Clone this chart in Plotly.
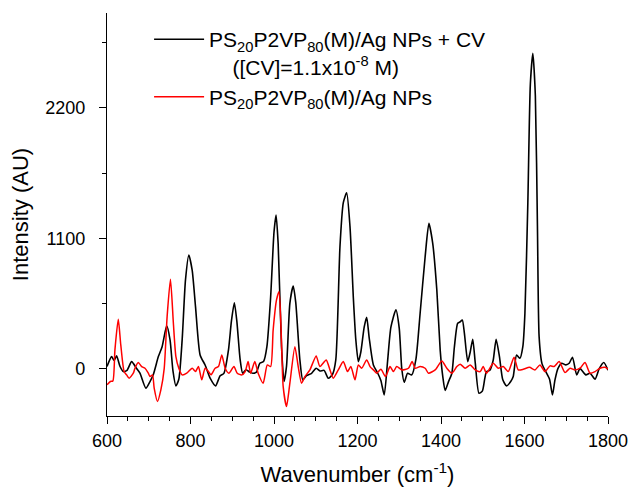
import plotly.graph_objects as go

# Black: PS20P2VP80(M)/Ag NPs + CV
cv_wavenumber = [600, 611, 617, 623, 631, 639, 648, 659, 671, 679, 693, 703, 711, 723, 732, 743, 751, 758, 765, 772,
                 780, 788, 796, 804, 812, 823, 835, 847, 860, 871, 880, 891, 898, 905, 911, 919, 925, 933, 942, 949,
                 958, 966, 975, 983, 992, 1000, 1005, 1010, 1018, 1024, 1030, 1038, 1046, 1052, 1062, 1069, 1078, 1090,
                 1101, 1110, 1120, 1130, 1140, 1148, 1158, 1166, 1174, 1182, 1190, 1196, 1202, 1208, 1216, 1222, 1228,
                 1238, 1248, 1256, 1264, 1272, 1280, 1292, 1300, 1306, 1312, 1320, 1330, 1340, 1350, 1362, 1371, 1380,
                 1390, 1398, 1404, 1410, 1418, 1426, 1432, 1440, 1446, 1451, 1456, 1464, 1470, 1476, 1482, 1491, 1499,
                 1505, 1509, 1517, 1525, 1532, 1540, 1548, 1557, 1567, 1573, 1581, 1589, 1596, 1601, 1608, 1614, 1620,
                 1626, 1631, 1635, 1642, 1650, 1660, 1667, 1673, 1680, 1689, 1699, 1707, 1715, 1725, 1733, 1747, 1757,
                 1769, 1779, 1790, 1800]
cv_intensity = [17, 101, 70, 107, 20, -25, -15, 59, 0, -39, -165, -109, -50, 101, 185, 360, 242, -20, -146, -90,
                242, 748, 958, 830, 523, 115, 30, -81, -146, -60, -40, 158, 400, 556, 400, 73, -39, -10, -30, -39,
                -30, 45, 60, 185, 607, 1150, 1296, 1050, 185, -109, 20, 551, 697, 560, 73, -95, -60, -40,
                3, -20, -15, -81, -50, 73, 1028, 1400, 1483, 1200, 600, 242, 59, 140, 350, 433, 260,
                31, -35, -100, -222, 60, 350, 495, 340, 0, -115, -40, -53, 80, 467, 944, 1225, 1060,
                663, 158, -60, -185, -110, -39, 180, 382, 395, 410, 300, 59, 140, 248, 50, -208, -190,
                -81, -25, -14, 70, 248, 101, -95, -146, -109, -67, 115, 87, 185, 467, 1400, 2400, 2660,
                2300, 1200, 270, 40, -20, -90, -222, -95, 0, 45, 31, 45, 96, -53, 0, -53, -39,
                -89, 0, 51, -14]

# Red: PS20P2VP80(M)/Ag NPs
np_wavenumber = [600, 608, 614, 619, 627, 633, 641, 647, 653, 663, 667, 675, 683, 691, 699, 703, 709, 713, 721, 729,
                 737, 744, 752, 759, 765, 772, 780, 791, 804, 812, 819, 827, 835, 843, 849, 859, 867, 875, 883, 892,
                 904, 912, 923, 931, 938, 944, 954, 962, 974, 984, 992, 998, 1006, 1012, 1017, 1022, 1030, 1038,
                 1050, 1058, 1066, 1074, 1086, 1101, 1110, 1125, 1134, 1142, 1154, 1166, 1176, 1184, 1194, 1202,
                 1210, 1222, 1230, 1238, 1246, 1256, 1267, 1278, 1286, 1294, 1306, 1322, 1331, 1338, 1350, 1362,
                 1370, 1386, 1402, 1414, 1426, 1438, 1446, 1458, 1470, 1482, 1494, 1501, 1509, 1525, 1537, 1549,
                 1561, 1575, 1585, 1597, 1612, 1625, 1637, 1649, 1661, 1671, 1683, 1697, 1709, 1721, 1733, 1745,
                 1757, 1769, 1781, 1793, 1800]
np_intensity = [-137, -109, -105, 158, 416, 200, -25, -53, -81, -39, 3, 51, 17, 3, -39, -67, -53, -165, -278, -180,
                0, 438, 753, 382, 101, 3, -53, -39, 3, -25, 17, -95, 3, -25, -53, 3, 17, 115, 3, -39,
                17, -39, -53, -25, 59, -39, 59, -39, -123, 31, 17, 326, 579, 649, 326, -152, -320, -123,
                185, 17, -123, -67, -11, 107, 17, 73, -11, -81, -11, 59, -25, 17, -95, 31,
                3, 73, 17, -11, -39, -6, -67, 17, -25, 17, -11, 3, 59, 3, 17, 3,
                -39, -11, 65, 3, -39, 17, 37, 3, 31, -11, -25, 17, -39, 45, 3, 17,
                -25, 96, -11, -6, 11, -11, 31, -25, 23, 17, 59, -34, 3, -11, 3, 51,
                -39, -25, 3, 11, -6]

x_tickvals = [600, 800, 1000, 1200, 1400, 1600, 1800]
y_tickvals = [0, 1100, 2200]

name_cv = ("PS<sub>20</sub>P2VP<sub>80</sub>(M)/Ag NPs + CV<br>"
           "\u00a0\u00a0\u00a0\u00a0([CV]=1.1x10<sup>-8</sup> M)")
name_np = "PS<sub>20</sub>P2VP<sub>80</sub>(M)/Ag NPs"

FONT = "Liberation Sans, Arial, sans-serif"

fig = go.Figure()
fig.add_trace(go.Scatter(x=cv_wavenumber, y=cv_intensity, mode="lines", name=name_cv,
                         line=dict(color="black", width=1.6, shape="spline", smoothing=0.6)))
fig.add_trace(go.Scatter(x=np_wavenumber, y=np_intensity, mode="lines", name=name_np,
                         line=dict(color="#FF0000", width=1.5, shape="spline", smoothing=0.6)))

axis_common = dict(showline=True, linecolor="black", linewidth=1.3, ticks="outside", ticklen=7,
                   tickwidth=1.3, tickcolor="black", showgrid=False, zeroline=False, automargin=False,
                   tickfont=dict(family=FONT, size=18, color="black"))

fig.update_xaxes(range=[600, 1800], tickvals=x_tickvals,
                 minor=dict(dtick=50, tick0=600, ticklen=4, tickwidth=1.3, tickcolor="black", ticks="outside", showgrid=False),
                 title=dict(text="Wavenumber (cm<sup>-1</sup>)", font=dict(family=FONT, size=22, color="black"), standoff=17),
                 ticklabelstandoff=1,
                 **axis_common)
fig.update_yaxes(range=[-400, 3000], tickvals=y_tickvals,
                 minor=dict(dtick=550, tick0=0, ticklen=4, tickwidth=1.3, tickcolor="black", ticks="outside", showgrid=False),
                 title=dict(text="Intensity (AU)", font=dict(family=FONT, size=22, color="black"), standoff=10),
                 ticklabelstandoff=10,
                 **axis_common)

fig.update_layout(
    width=631, height=487,
    margin=dict(l=107, r=23, t=13, b=71),
    paper_bgcolor="white", plot_bgcolor="white",
    font=dict(family=FONT, color="black"),
    legend=dict(x=0.084, y=0.985, xanchor="left", yanchor="top", valign="top",
                bgcolor="rgba(0,0,0,0)", font=dict(family=FONT, size=21, color="black"),
                itemwidth=50, tracegroupgap=0),
)

fig.write_html("out.html")
